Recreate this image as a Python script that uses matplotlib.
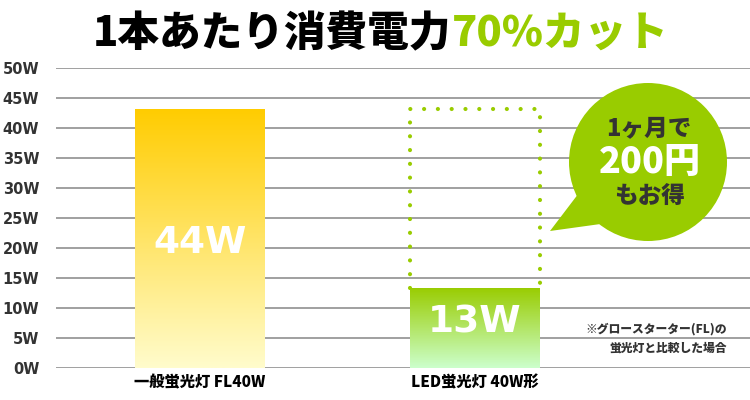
import numpy as np
import matplotlib
matplotlib.use("Agg")
import matplotlib.pyplot as plt
from matplotlib.patches import Circle, Polygon
from matplotlib.colors import LinearSegmentedColormap

plt.rcParams["font.family"] = ["Noto Sans CJK JP", "DejaVu Sans"]

# データ
categories = ["一般蛍光灯 FL40W", "LED蛍光灯 40W形"]
values = [43.2, 13.4]          # 描画上の棒の高さ
value_labels = ["44W", "13W"]
yticks = [0, 5, 10, 15, 20, 25, 30, 35, 40, 45, 50]
ytick_labels = [f"{v}W" for v in yticks]

GREEN = "#99cc00"
GRID = "#999999"
TEXT_DARK = "#333333"

fig = plt.figure(figsize=(7.5, 4.0), dpi=100, facecolor="white")
ax = fig.add_axes([56 / 750, 1 - 368 / 400, 694 / 750, 300 / 400])

x = np.arange(len(categories))
bw = 130 / 275
bars = ax.bar(x, values, width=bw, color="none", edgecolor="none", zorder=3)

# グラデーション
grads = [
    LinearSegmentedColormap.from_list("y", ["#fffccc", "#ffcc00"]),
    LinearSegmentedColormap.from_list("g", ["#ccffcc", "#99cc00"]),
]
for bar, cmap in zip(bars, grads):
    bx, by = bar.get_x(), bar.get_y()
    w, h = bar.get_width(), bar.get_height()
    grad = np.linspace(0, 1, 256).reshape(-1, 1)
    im = ax.imshow(grad, cmap=cmap, origin="lower", aspect="auto",
                   extent=[bx, bx + w, by, by + h], zorder=3)
    im.set_clip_path(bar)

# 点線の枠（旧消費電力）
bx2 = bars[1].get_x()
ax.plot([bx2, bx2, bx2 + bw, bx2 + bw],
        [values[1], values[0], values[0], values[1]],
        color=GREEN, linewidth=3, linestyle=(0, (0.01, 3.3)),
        dash_capstyle="round", zorder=2)

# 値ラベル
label_y = [20.8, 7.6]
for xi, lab, ly in zip(x, value_labels, label_y):
    ax.text(xi, ly, lab, color="white", fontsize=27, fontweight="bold",
            ha="center", va="center", family="DejaVu Sans", zorder=4)

ax.set_ylim(0, 50)
ax.set_xlim(-144 / 275, 550 / 275)
ax.set_yticks(yticks)
ax.set_yticklabels(ytick_labels, fontsize=10.5, fontweight="bold",
                   color=TEXT_DARK, family="DejaVu Sans")
ax.set_xticks(x)
ax.set_xticklabels(categories, fontsize=11, fontweight="black", color="black")
ax.tick_params(axis="both", length=0)
ax.tick_params(axis="y", pad=12)
ax.tick_params(axis="x", pad=5)
ax.grid(axis="y", color=GRID, linewidth=1.3)
ax.set_axisbelow(True)
for s in ax.spines.values():
    s.set_visible(False)

# オーバーレイ（ピクセル座標）
ov = fig.add_axes([0, 0, 1, 1])
ov.set_xlim(0, 750)
ov.set_ylim(400, 0)
ov.axis("off")
ov.patch.set_alpha(0)

# 吹き出し
ov.add_patch(Circle((648, 162), 79, facecolor=GREEN, edgecolor="none"))
ov.add_patch(Polygon([(550, 231), (585, 185), (615, 222)], closed=True,
                     facecolor=GREEN, edgecolor="none"))
ov.text(649, 128, "1ヶ月で", fontsize=17, fontweight="black", color=TEXT_DARK,
        ha="center", va="center")
ov.text(650, 162, "200円", fontsize=26, fontweight="black", color="white",
        ha="center", va="center")
ov.text(650, 196, "もお得", fontsize=17, fontweight="black", color=TEXT_DARK,
        ha="center", va="center")

# 注記
ov.text(727, 329, "※グロースターター(FL)の", fontsize=8.5, fontweight="black",
        color=TEXT_DARK, ha="right", va="center")
ov.text(727, 348, "蛍光灯と比較した場合", fontsize=8.5, fontweight="black",
        color=TEXT_DARK, ha="right", va="center")

# タイトル
t1 = ov.text(93, 34, "1本あたり消費電力", fontsize=30, fontweight="black",
             color="black", ha="left", va="center")
fig.canvas.draw()
bb = t1.get_window_extent()
x_end = ov.transData.inverted().transform((bb.x1, bb.y0))[0]
ov.text(x_end, 34, "70%カット", fontsize=30, fontweight="black",
        color=GREEN, ha="left", va="center")

fig.savefig("out.png", dpi=100, facecolor="white")
